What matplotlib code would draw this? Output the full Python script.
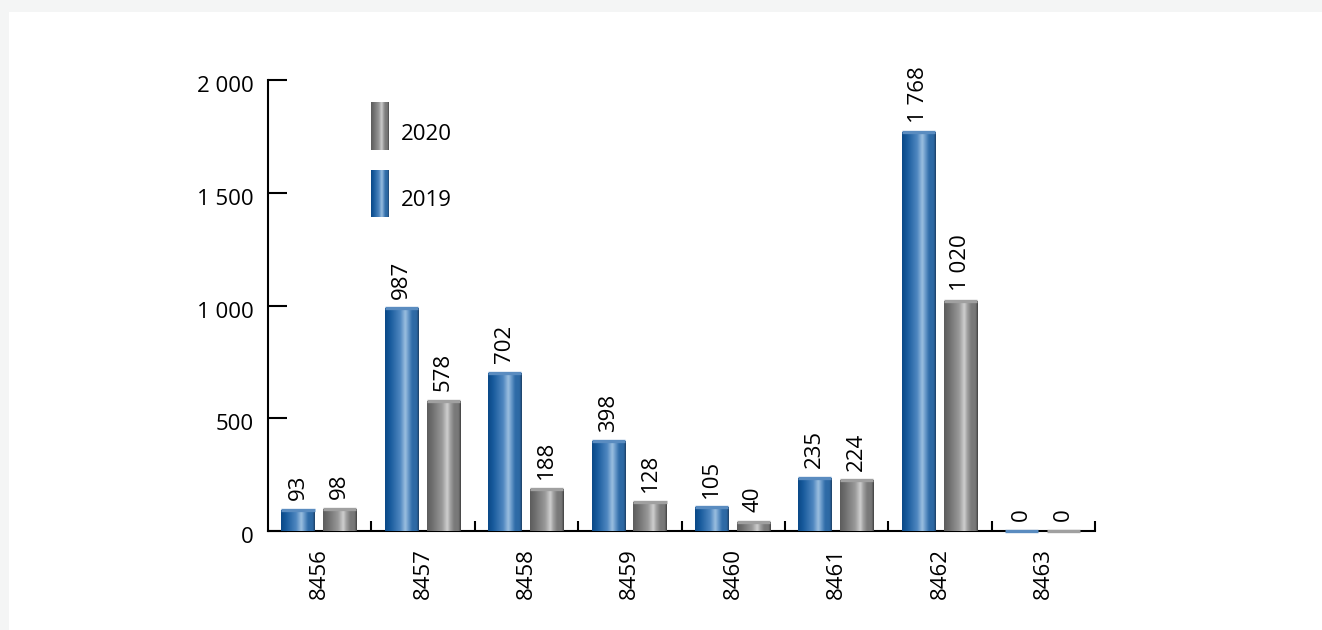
import numpy as np
import matplotlib
matplotlib.use("Agg")
import matplotlib.pyplot as plt
from matplotlib.colors import LinearSegmentedColormap
from matplotlib.patches import Rectangle
import matplotlib.transforms as mtransforms

# ---- data ----
categories = ["8456", "8457", "8458", "8459", "8460", "8461", "8462", "8463"]
series_names = ["2019", "2020"]
values_2019 = [93, 987, 702, 398, 105, 235, 1768, 0]
values_2020 = [98, 578, 188, 128, 40, 224, 1020, 0]
y_ticks = [0, 500, 1000, 1500, 2000]
y_tick_labels = ["0", "500", "1 000", "1 500", "2 000"]


def fmt(v):
    return f"{v:,}".replace(",", " ")


W, H = 1322, 630
DPI = 100
plt.rcParams['font.family'] = ['Open Sans', 'DejaVu Sans']

fig = plt.figure(figsize=(W / DPI, H / DPI), dpi=DPI)
fig.patch.set_facecolor("#f4f5f5")
fig.patches.append(Rectangle((9 / W, 0), 1 - 9 / W, (H - 12) / H,
                             transform=fig.transFigure, facecolor="white",
                             edgecolor="none", zorder=-10))

ax_left, ax_right = 268, 1095
ax_top, ax_bottom = 80, 531
ax = fig.add_axes([ax_left / W, (H - ax_bottom) / H,
                   (ax_right - ax_left) / W, (ax_bottom - ax_top) / H])
ax.set_facecolor("none")

blue_cmap = LinearSegmentedColormap.from_list("blue_cyl", [
    (0.0, "#0a4886"), (0.15, "#175a9c"), (0.45, "#4f87c0"), (0.6, "#9cc0e0"),
    (0.68, "#6e9dcc"), (0.8, "#2f6ca8"), (0.94, "#2d68a3"), (1.0, "#1b3b5e")])
gray_cmap = LinearSegmentedColormap.from_list("gray_cyl", [
    (0.0, "#5c5c5c"), (0.15, "#6e6e6e"), (0.45, "#9a9a9a"), (0.6, "#d0d0d0"),
    (0.68, "#a3a3a3"), (0.8, "#7b7b7b"), (0.94, "#777777"), (1.0, "#3a3a3a")])
grad = np.linspace(0, 1, 256).reshape(1, -1)

x = np.arange(len(categories))
bw = 0.32
offsets = [-0.21, 0.195]
series = [values_2019, values_2020]
cmaps = [blue_cmap, gray_cmap]
base_colors = ["#2f6ca8", "#7b7b7b"]
cap_colors = ["#5a8cc0", "#a0a0a0"]

for vals, off, cmap, bc, cc in zip(series, offsets, cmaps, base_colors, cap_colors):
    bars = ax.bar(x + off, vals, width=bw, color=bc, zorder=2)
    for p, v in zip(bars, vals):
        x0, w = p.get_x(), p.get_width()
        if v > 0:
            im = ax.imshow(grad, cmap=cmap, extent=[x0, x0 + w, 0, v],
                           aspect='auto', zorder=3, interpolation='bicubic')
            im.set_clip_path(p)
        ax.plot([x0, x0 + w], [v, v], color=cc, lw=2.4,
                solid_capstyle='butt', zorder=4, clip_on=False)
        ax.annotate(fmt(v), (x0 + w / 2, v), xytext=(0, 7),
                    textcoords='offset points', rotation=90,
                    ha='center', va='bottom', fontsize=16, color='black',
                    annotation_clip=False)

ax.set_xlim(-0.5, len(categories) - 0.5)
ax.set_ylim(0, 2000)

for s in ["top", "right"]:
    ax.spines[s].set_visible(False)
for s in ["left", "bottom"]:
    ax.spines[s].set_linewidth(1.5)
    ax.spines[s].set_color("black")

ax.set_yticks(y_ticks)
ax.set_yticklabels(y_tick_labels)
ax.tick_params(axis='y', direction='in', length=13.5, width=1.5,
               labelsize=16, pad=10)
offset = mtransforms.ScaledTranslation(0, -4 / DPI, fig.dpi_scale_trans)
for lab in ax.get_yticklabels():
    lab.set_transform(lab.get_transform() + offset)

ax.set_xticks(x)
ax.set_xticklabels(categories, rotation=90)
ax.tick_params(axis='x', which='major', length=0, labelsize=16, pad=12)
ax.set_xticks(np.arange(0.5, len(categories), 1.0), minor=True)
ax.tick_params(axis='x', which='minor', direction='in', length=7.5, width=1.5)

# legend
legend_items = [("2020", gray_cmap, 102, 150, 134), ("2019", blue_cmap, 170, 217, 201)]
for name, cmap, y0, y1, ty in legend_items:
    lax = fig.add_axes([371 / W, (H - y1) / H, 18 / W, (y1 - y0) / H])
    lax.imshow(grad, cmap=cmap, aspect='auto', interpolation='bicubic')
    lax.axis('off')
    fig.text(401 / W, (H - ty) / H, name, fontsize=16, ha='left', va='center')

fig.savefig("out.png", dpi=DPI, facecolor=fig.get_facecolor())
